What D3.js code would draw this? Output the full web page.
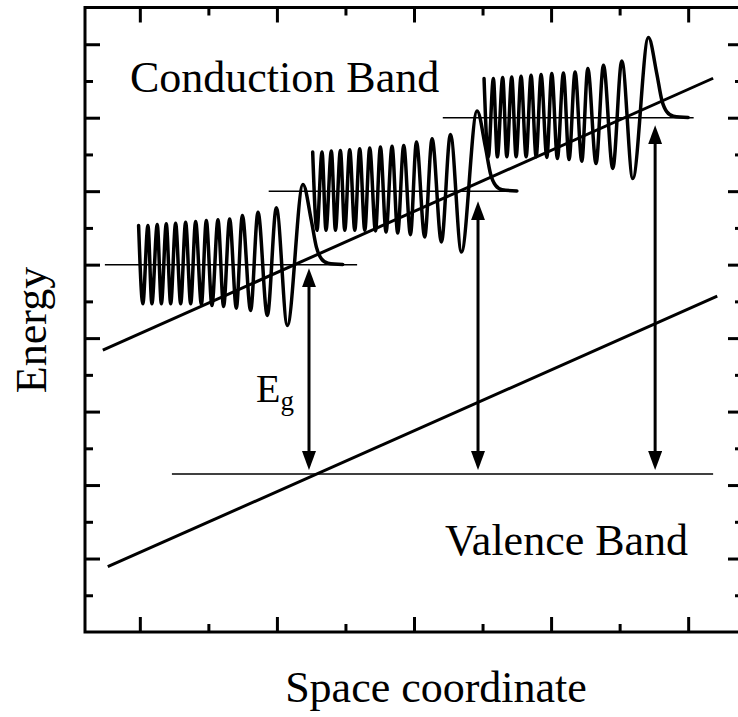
<!DOCTYPE html>
<html>
<head>
<meta charset="utf-8">
<script src="https://cdn.jsdelivr.net/npm/d3@7"></script>
<style>
  body { margin: 0; background: #fff; }
  text { font-family: "Liberation Serif", "Times New Roman", serif; fill: #000; }
</style>
</head>
<body>
<svg id="chart" width="738" height="717"></svg>
<script>
// wave packet shape: offsets from the main peak (x) and from the level (y)
const waveDx = [-1.199, -1.168, -1.131, -1.102, -1.063, -1.033, -0.997, -0.965, -0.929, -0.892,
                -0.856, -0.819, -0.783, -0.741, -0.705, -0.664, -0.620, -0.579, -0.535, -0.486,
                -0.442, -0.382, -0.328, -0.260, -0.194, -0.114, 0, 0.061, 0.098, 0.135, 0.183, 0.29];
const waveDy = [0.533, -0.533, 0.533, -0.533, 0.547, -0.533, 0.555, -0.533, 0.565, -0.533,
                0.578, -0.533, 0.588, -0.541, 0.601, -0.555, 0.610, -0.569, 0.623, -0.592,
                0.669, -0.623, 0.714, -0.691, 0.773, -0.827, 1.091, 0.601, 0.238, 0.079, 0.020, 0.003];

// three packets: x of main peak and energy level, plus the thin level lines
const packetPeakX = [2.19, 3.46, 4.71];
const packetLevel = [5, 6, 7];
const levelStart = [0.745, 1.94, 3.21];
const levelEnd = [2.585, 3.76, 5.04];

// tilted bands
const conductionBand = [[0.730, 3.837], [5.182, 7.537]];
const valenceBand = [[0.766, 0.889], [5.212, 4.571]];
const valenceLevel = [1.234, 5.182];
const valenceLevelY = 2.15;

// transitions
const arrowX = [2.234, 3.467, 4.759];
const arrowTop = [4.952, 5.864, 6.898];
const arrowBottom = 2.204;

// ticks
const xMajor = [1, 2, 3, 4, 5];
const xMinor = [1.5, 2.5, 3.5, 4.5];
const yMajor = [1, 2, 3, 4, 5, 6, 7, 8];
const yMinor = [0.5, 1.5, 2.5, 3.5, 4.5, 5.5, 6.5, 7.5];

// in-plot labels
const notes = [
  {text: "Conduction Band", x: 0.928, y: 7.35},
  {text: "Valence Band", x: 3.226, y: 1.048}
];

const svg = d3.select("#chart");
const margin = {left: 85, top: 7.5, bottom: 632, right: 743};

const x = d3.scaleLinear().domain([0.6, 5.4]).range([margin.left, margin.right]);
const y = d3.scaleLinear().domain([0, 8.5]).range([margin.bottom, margin.top]);

// frame ticks, all pointing inward
function ticks(axis, pos, major, minor) {
  let g = svg.append("g").attr("transform", pos);
  g.call(axis.tickValues(major).tickSize(-15).tickSizeOuter(0).tickFormat(""));
  let g2 = svg.append("g").attr("transform", pos);
  g2.call(axis.tickValues(minor).tickSize(-8).tickSizeOuter(0).tickFormat(""));
  [g, g2].forEach(function(s){
    s.select(".domain").remove();
    s.selectAll("line").attr("stroke", "#000").attr("stroke-width", 3);
  });
}
ticks(d3.axisBottom(x), `translate(0,${margin.bottom})`, xMajor, xMinor);
ticks(d3.axisTop(x), `translate(0,${margin.top})`, xMajor, xMinor);
ticks(d3.axisLeft(y), `translate(${margin.left},0)`, yMajor, yMinor);
ticks(d3.axisRight(y), `translate(${margin.right},0)`, yMajor, yMinor);

svg.append("rect")
  .attr("x", margin.left).attr("y", margin.top)
  .attr("width", margin.right - margin.left).attr("height", margin.bottom - margin.top)
  .attr("fill", "none").attr("stroke", "#000").attr("stroke-width", 3);

let plot = svg.append("g");
let line = d3.line().x(d => x(d[0])).y(d => y(d[1]));

// thin level lines
plot.selectAll(".level")
  .data(packetLevel)
  .join("line")
    .attr("class", "level")
    .attr("x1", (d, i) => x(levelStart[i])).attr("x2", (d, i) => x(levelEnd[i]))
    .attr("y1", d => y(d)).attr("y2", d => y(d))
    .attr("stroke", "#000").attr("stroke-width", 1.5);

plot.append("line")
  .attr("x1", x(valenceLevel[0])).attr("x2", x(valenceLevel[1]))
  .attr("y1", y(valenceLevelY)).attr("y2", y(valenceLevelY))
  .attr("stroke", "#000").attr("stroke-width", 1.5);

// band edges
plot.selectAll(".band")
  .data([conductionBand, valenceBand])
  .join("path")
    .attr("class", "band")
    .attr("d", line)
    .attr("fill", "none").attr("stroke", "#000").attr("stroke-width", 3);

// wave packets
let wave = d3.line().curve(d3.curveMonotoneX).x(d => x(d[0])).y(d => y(d[1]));
plot.selectAll(".wave")
  .data(packetPeakX.map((px, i) => waveDx.map((dx, j) => [px + dx, packetLevel[i] + waveDy[j]])))
  .join("path")
    .attr("class", "wave")
    .attr("d", wave)
    .attr("fill", "none").attr("stroke", "#000").attr("stroke-width", 3.5)
    .attr("stroke-linejoin", "round").attr("stroke-linecap", "round");

// double headed arrows
svg.append("defs").append("marker")
  .attr("id", "head")
  .attr("viewBox", "0 0 19 14")
  .attr("refX", 13).attr("refY", 7)
  .attr("markerWidth", 19).attr("markerHeight", 14)
  .attr("markerUnits", "userSpaceOnUse")
  .attr("orient", "auto-start-reverse")
  .append("path").attr("d", "M0,0L19,7L0,14Z").attr("fill", "#000");

plot.selectAll(".arrow")
  .data(arrowX)
  .join("line")
    .attr("class", "arrow")
    .attr("x1", d => x(d)).attr("x2", d => x(d))
    .attr("y1", (d, i) => y(arrowTop[i]) + 6).attr("y2", y(arrowBottom) - 6)
    .attr("stroke", "#000").attr("stroke-width", 3)
    .attr("marker-start", "url(#head)").attr("marker-end", "url(#head)");

// labels
plot.selectAll(".note")
  .data(notes)
  .join("text")
    .attr("class", "note")
    .attr("x", d => x(d.x)).attr("y", d => y(d.y))
    .attr("font-size", 44)
    .text(d => d.text);

let eg = plot.append("text")
  .attr("x", x(1.847)).attr("y", y(3.13))
  .attr("font-size", 40);
eg.append("tspan").text("E");
eg.append("tspan").attr("font-size", 27).attr("dy", 8).text("g");

svg.append("text")
  .attr("transform", "translate(46,330) rotate(-90)")
  .attr("text-anchor", "middle")
  .attr("font-size", 44)
  .text("Energy");

svg.append("text")
  .attr("x", 436).attr("y", 702)
  .attr("text-anchor", "middle")
  .attr("font-size", 44)
  .text("Space coordinate");
</script>
</body>
</html>
